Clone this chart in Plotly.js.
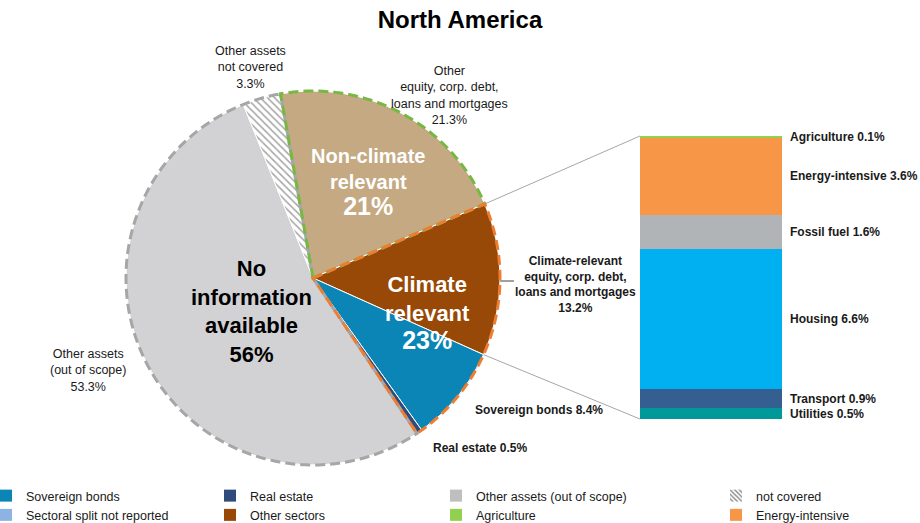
<!DOCTYPE html>
<html>
<head>
<meta charset="utf-8">
<script src="https://cdn.plot.ly/plotly-3.0.1.min.js"></script>
<style>html,body{margin:0;padding:0;background:#fff;}#chart{width:920px;height:523px;}</style>
</head>
<body>
<div id="chart"></div>
<script>
// ---------- data ----------
const pieLabels = ["Other equity, corp. debt, loans and mortgages", "Climate-relevant equity, corp. debt, loans and mortgages", "Sovereign bonds", "Real estate", "Other assets (out of scope)", "Other assets not covered"];
const pieValues = [21.3, 13.2, 8.4, 0.5, 53.3, 3.3];
const pieColors = ["#c4a983", "#984807", "#0a85b5", "#2f4b7c", "#d2d2d4", "#ffffff"];

const barLabels = ["Utilities", "Transport", "Housing", "Fossil fuel", "Energy-intensive", "Agriculture"];
const barValues = [0.5, 0.9, 6.6, 1.6, 3.6, 0.1];
const barColors = ["#009999", "#365f91", "#00b0f0", "#b1b4b7", "#f79646", "#92d050"];

const legendNames = ["Sovereign bonds", "Sectoral split not reported", "Real estate", "Other sectors", "Other assets (out of scope)", "Agriculture", "not covered", "Energy-intensive"];
const legendColors = ["#0a85b5", "#8db3e2", "#2f4b7c", "#984807", "#bfbfbf", "#92d050", "#ffffff", "#f79646"];

// group outlines (slice indices) and their dash colours
const groups = [
  {slices: [4, 5], color: "#a6a6a6"},
  {slices: [0], color: "#77b843"},
  {slices: [1, 2, 3], color: "#ed7d31"}
];

// ---------- geometry (layout) ----------
const W = 920, H = 523;
const FONT = '"Liberation Sans", Arial, sans-serif';
const pieDomX = [126 / W, 500 / W];
const pieDomY = [58 / H, 432 / H];
const rotation = -10;
const barDomX = [640 / W, 782 / W];
const barDomY = [104 / H, 387 / H];

const total = pieValues.reduce((a, b) => a + b, 0);
const cumStart = [];
let acc = 0;
pieValues.forEach(v => { cumStart.push(acc); acc += v; });
const angOf = frac => rotation + frac * 360; // degrees clockwise from 12 o'clock
const rPx = Math.min((pieDomX[1] - pieDomX[0]) * W, (pieDomY[1] - pieDomY[0]) * H) / 2;
const cx = (pieDomX[0] + pieDomX[1]) / 2, cy = (pieDomY[0] + pieDomY[1]) / 2;
function arcPt(deg) {
  const a = deg * Math.PI / 180;
  return [cx + rPx * Math.sin(a) / W, cy + rPx * Math.cos(a) / H];
}

const shapes = [];
groups.forEach(g => {
  const s0 = cumStart[g.slices[0]] / total;
  const last = g.slices[g.slices.length - 1];
  const s1 = (cumStart[last] + pieValues[last]) / total;
  const a0 = angOf(s0), a1 = angOf(s1);
  let d = `M${cx},${cy}`;
  const n = Math.max(2, Math.ceil((a1 - a0)));
  for (let i = 0; i <= n; i++) {
    const p = arcPt(a0 + (a1 - a0) * i / n);
    d += ` L${p[0]},${p[1]}`;
  }
  d += " Z";
  shapes.push({type: "path", xref: "paper", yref: "paper", path: d, layer: "above",
    line: {color: g.color, width: 3, dash: "10px,5px"}, fillcolor: "rgba(0,0,0,0)"});
});

// connector lines from the climate-relevant slice to the bar
const crStart = arcPt(angOf(cumStart[1] / total));
const crEnd = arcPt(angOf((cumStart[1] + pieValues[1]) / total));
shapes.push({type: "line", xref: "paper", yref: "paper", x0: crStart[0], y0: crStart[1], x1: barDomX[0], y1: barDomY[1], line: {color: "#a6a6a6", width: 1}, layer: "below"});
shapes.push({type: "line", xref: "paper", yref: "paper", x0: crEnd[0], y0: crEnd[1], x1: barDomX[0], y1: barDomY[0], line: {color: "#a6a6a6", width: 1}, layer: "below"});
// short leader line for climate-relevant label
shapes.push({type: "line", xref: "paper", yref: "paper", x0: 500 / W, y0: (H - 281) / H, x1: 514 / W, y1: (H - 281) / H, line: {color: "#404040", width: 1}});

// ---------- traces ----------
const traces = [];
traces.push({
  type: "pie", labels: pieLabels, values: pieValues, sort: false, direction: "clockwise",
  rotation: rotation, domain: {x: pieDomX, y: pieDomY}, textinfo: "none", hoverinfo: "none",
  showlegend: false,
  marker: {colors: pieColors, line: {color: "#ffffff", width: 1},
    pattern: {shape: ["", "", "", "", "", "\\"], fgcolor: "#a6a6a6", bgcolor: "#ffffff", size: 5, solidity: 0.3}}
});

const barTotal = barValues.reduce((a, b) => a + b, 0);
barLabels.forEach((name, i) => {
  traces.push({type: "bar", x: [0.5], y: [barValues[i]], width: [1], name: name,
    marker: {color: barColors[i], line: {width: 0}}, showlegend: false, hoverinfo: "none",
    xaxis: "x", yaxis: "y"});
});

const legIds = ["legend", "legend", "legend2", "legend2", "legend3", "legend3", "legend4", "legend4"];
legendNames.forEach((name, i) => {
  const t = {type: "bar", x: [null], y: [null], name: name, legend: legIds[i], showlegend: true,
    marker: {color: legendColors[i], line: {width: 0}}, xaxis: "x", yaxis: "y", hoverinfo: "none"};
  if (name === "not covered") {
    t.marker.pattern = {shape: "\\", fgcolor: "#808080", bgcolor: "#ffffff", size: 4, solidity: 0.4};
  }
  traces.push(t);
});

// ---------- annotations ----------
const ann = [];
let c = 0;
barLabels.forEach((name, i) => {
  ann.push({xref: "x", yref: "y", x: 1, y: c + barValues[i] / 2, xanchor: "left", yanchor: "middle", xshift: 6,
    text: `<b>${name} ${barValues[i]}%</b>`, showarrow: false, font: {size: 12, color: "#1a1a1a", family: FONT}});
  c += barValues[i];
});
function pa(x, y, text, size, color, bold) {
  ann.push({xref: "paper", yref: "paper", x: x / W, y: (H - y) / H, xanchor: "center", yanchor: "middle",
    text: bold ? `<b>${text}</b>` : text, showarrow: false, align: "center",
    font: {size: size, color: color, family: FONT}});
}
pa(250, 68, `Other assets<br>not covered<br>${pieValues[5]}%`, 12.5, "#1a1a1a", false);
pa(449, 95, `Other<br>equity, corp. debt,<br>loans and mortgages<br>${pieValues[0]}%`, 12.5, "#1a1a1a", false);
pa(575, 284, `Climate-relevant<br>equity, corp. debt,<br>loans and mortgages<br>${pieValues[1]}%`, 12, "#1a1a1a", true);
pa(539, 410, `${pieLabels[2]} ${pieValues[2]}%`, 12, "#1a1a1a", true);
pa(480, 448, `${pieLabels[3]} ${pieValues[3]}%`, 12, "#1a1a1a", true);
pa(88, 371, `Other assets<br>(out of scope)<br>${pieValues[4]}%`, 12.5, "#1a1a1a", false);
pa(252, 311, `No<br>information<br>available<br>56%`, 22, "#000000", true);
pa(368, 182, `Non-climate<br>relevant<br><span style="font-size:25px">21%</span>`, 20, "#ffffff", true);
pa(427, 313, `Climate<br>relevant<br><span style="font-size:25px">23%</span>`, 22, "#ffffff", true);

// ---------- layout ----------
const legBase = {orientation: "v", y: 42 / H, yanchor: "top", bgcolor: "rgba(0,0,0,0)",
  font: {size: 12.5, color: "#1a1a1a", family: FONT}, itemwidth: 30, tracegroupgap: 0, traceorder: "normal"};
const layout = {
  width: W, height: H, margin: {l: 0, r: 0, t: 0, b: 0, autoexpand: false},
  paper_bgcolor: "#ffffff", plot_bgcolor: "rgba(0,0,0,0)",
  title: {text: "<b>North America</b>", x: 0.5, xanchor: "center", y: 1 - 20 / H, yanchor: "middle", yref: "container",
    font: {size: 24, color: "#000000", family: FONT}},
  barmode: "stack", bargap: 0,
  xaxis: {domain: barDomX, range: [0, 1], visible: false, fixedrange: true},
  yaxis: {domain: barDomY, range: [0, barTotal], visible: false, fixedrange: true},
  legend: Object.assign({}, legBase, {x: -14 / W}),
  legend2: Object.assign({}, legBase, {x: 210 / W}),
  legend3: Object.assign({}, legBase, {x: 436 / W}),
  legend4: Object.assign({}, legBase, {x: 716 / W}),
  shapes: shapes,
  annotations: ann,
  showlegend: true
};

Plotly.newPlot("chart", traces, layout, {displayModeBar: false, staticPlot: true});
</script>
</body>
</html>
